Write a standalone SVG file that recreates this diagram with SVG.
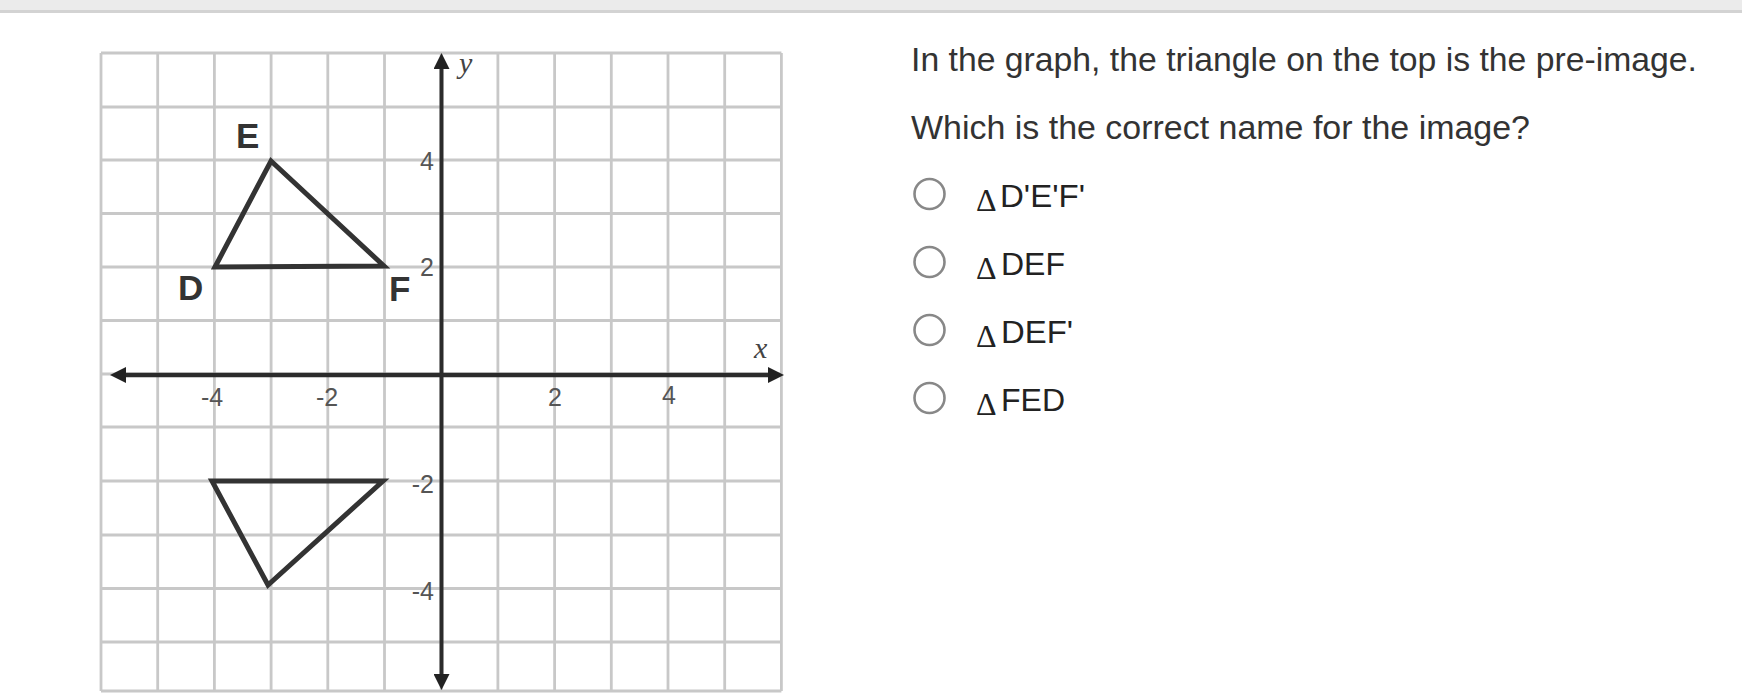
<svg xmlns="http://www.w3.org/2000/svg" width="1742" height="700" viewBox="0 0 1742 700">
  <style>
    .grid line { stroke: #c8c8c8; stroke-width: 2.8; }
    .axis { stroke: #2b2b2b; fill: none; }
    .tri { fill: none; stroke: #333; stroke-width: 5; stroke-linejoin: miter; }
    .tick { font-family: "Liberation Sans", Arial, sans-serif; font-size: 25px; fill: #555; }
    .var { font-family: "Liberation Serif", "Times New Roman", serif; font-style: italic; font-size: 30px; fill: #444; }
    .pt { font-family: "Liberation Sans", Arial, sans-serif; font-weight: bold; font-size: 35px; fill: #333; }
    .q { font-family: "Liberation Sans", Arial, sans-serif; font-size: 34px; fill: #333; }
    .opt { font-family: "Liberation Sans", Arial, sans-serif; font-size: 32px; fill: #222; }
    .delta { font-family: "Liberation Serif", "Times New Roman", serif; font-size: 32px; fill: #222; }
    .radio { fill: #fff; stroke: #888; stroke-width: 2.6; }
  </style>
  <defs>
    <marker id="arr" viewBox="0 0 16 16" refX="2" refY="8" markerWidth="16" markerHeight="16" markerUnits="userSpaceOnUse" orient="auto-start-reverse">
      <path d="M0,0 L16,8 L0,16 Z" fill="#222"/>
    </marker>
  </defs>

  <rect x="0" y="0" width="1742" height="700" fill="#fff"/>
  <!-- top bar -->
  <rect x="0" y="0" width="1742" height="10" fill="#ebebeb"/>
  <rect x="0" y="10" width="1742" height="3" fill="#d3d3d3"/>

  <!-- grid -->
  <g id="grid" class="grid">
    <line x1="101" y1="53" x2="101" y2="691"/>
    <line x1="157.7" y1="53" x2="157.7" y2="691"/>
    <line x1="214.4" y1="53" x2="214.4" y2="691"/>
    <line x1="271.1" y1="53" x2="271.1" y2="691"/>
    <line x1="327.8" y1="53" x2="327.8" y2="691"/>
    <line x1="384.5" y1="53" x2="384.5" y2="691"/>
    <line x1="441.2" y1="53" x2="441.2" y2="691"/>
    <line x1="497.9" y1="53" x2="497.9" y2="691"/>
    <line x1="554.6" y1="53" x2="554.6" y2="691"/>
    <line x1="611.3" y1="53" x2="611.3" y2="691"/>
    <line x1="668" y1="53" x2="668" y2="691"/>
    <line x1="724.7" y1="53" x2="724.7" y2="691"/>
    <line x1="781.4" y1="53" x2="781.4" y2="691"/>
    <line x1="101" y1="53" x2="781.4" y2="53"/>
    <line x1="101" y1="107" x2="781.4" y2="107"/>
    <line x1="101" y1="160" x2="781.4" y2="160"/>
    <line x1="101" y1="213.5" x2="781.4" y2="213.5"/>
    <line x1="101" y1="267" x2="781.4" y2="267"/>
    <line x1="101" y1="320.5" x2="781.4" y2="320.5"/>
    <line x1="101" y1="374" x2="781.4" y2="374"/>
    <line x1="101" y1="427" x2="781.4" y2="427"/>
    <line x1="101" y1="481" x2="781.4" y2="481"/>
    <line x1="101" y1="535" x2="781.4" y2="535"/>
    <line x1="101" y1="588.5" x2="781.4" y2="588.5"/>
    <line x1="101" y1="642" x2="781.4" y2="642"/>
    <line x1="101" y1="691" x2="781.4" y2="691"/>
  </g>

  <!-- axes -->
  <g id="axes">
    <line class="axis" x1="441.5" y1="676" x2="441.5" y2="67" stroke-width="4" marker-start="url(#arr)" marker-end="url(#arr)"/>
    <line class="axis" x1="124" y1="375" x2="770" y2="375" stroke-width="4.5" stroke="#151515" marker-start="url(#arr)" marker-end="url(#arr)"/>
    <text class="var" x="459" y="73">y</text>
    <text class="var" x="754" y="358">x</text>
  </g>

  <!-- tick labels -->
  <g id="ticks" class="tick">
    <text x="434" y="170" text-anchor="end">4</text>
    <text x="434" y="276" text-anchor="end">2</text>
    <text x="434" y="493" text-anchor="end">-2</text>
    <text x="434" y="600" text-anchor="end">-4</text>
    <text x="212" y="406" text-anchor="middle">-4</text>
    <text x="327" y="406" text-anchor="middle">-2</text>
    <text x="555" y="406" text-anchor="middle">2</text>
    <text x="669" y="404" text-anchor="middle">4</text>
  </g>

  <!-- pre-image triangle DEF -->
  <g id="preimage">
    <polygon class="tri" points="215,267 271,161 384,266"/>
    <text class="pt" x="178" y="300">D</text>
    <text class="pt" x="236" y="148">E</text>
    <text class="pt" x="389" y="301">F</text>
  </g>

  <!-- image triangle -->
  <g id="image">
    <polygon class="tri" points="212,481 383,481 268,585"/>
  </g>

  <!-- question -->
  <g id="question">
    <text class="q" x="911" y="71" textLength="786" lengthAdjust="spacingAndGlyphs">In the graph, the triangle on the top is the pre-image.</text>
    <text class="q" x="911" y="138.5" textLength="619" lengthAdjust="spacingAndGlyphs">Which is the correct name for the image?</text>
  </g>

  <g id="option1">
    <circle class="radio" cx="929.5" cy="194" r="15"/>
    <text class="delta" x="976" y="211">Δ</text>
    <text class="opt" x="1000" y="207" textLength="85" lengthAdjust="spacingAndGlyphs">D'E'F'</text>
  </g>
  <g id="option2">
    <circle class="radio" cx="929.5" cy="262" r="15"/>
    <text class="delta" x="976" y="279">Δ</text>
    <text class="opt" x="1001" y="275" textLength="64" lengthAdjust="spacingAndGlyphs">DEF</text>
  </g>
  <g id="option3">
    <circle class="radio" cx="929.5" cy="330" r="15"/>
    <text class="delta" x="976" y="347">Δ</text>
    <text class="opt" x="1001" y="343" textLength="72" lengthAdjust="spacingAndGlyphs">DEF'</text>
  </g>
  <g id="option4">
    <circle class="radio" cx="929.5" cy="398" r="15"/>
    <text class="delta" x="976" y="415">Δ</text>
    <text class="opt" x="1001" y="411" textLength="64" lengthAdjust="spacingAndGlyphs">FED</text>
  </g>
</svg>
